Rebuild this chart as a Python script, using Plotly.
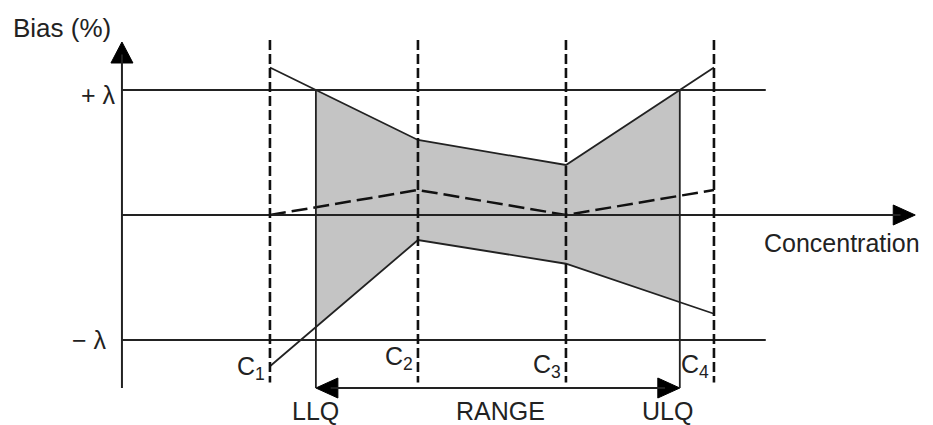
import numpy as np
import plotly.graph_objects as go

# ---- data ----
conc = [1, 2, 3, 4]
conc_labels = ["C<sub>1</sub>", "C<sub>2</sub>", "C<sub>3</sub>", "C<sub>4</sub>"]
upper = [11.8, 6.0, 4.0, 11.8]
lower = [-12.1, -2.0, -3.9, -7.9]
mean_bias = [0.0, 2.0, 0.0, 2.0]
lam = 10.0

# ---- derived: quantification limits where the upper limit crosses +lambda ----
def crossing(x0, x1, y0, y1, level):
    return x0 + (level - y0) / (y1 - y0) * (x1 - x0)

llq = crossing(conc[0], conc[1], upper[0], upper[1], lam)
ulq = crossing(conc[2], conc[3], upper[2], upper[3], lam)

xr = [-0.824, 5.48]
yr = [-16.8, 17.2]
W, H = 933, 425
pxx = W / (xr[1] - xr[0])
pxy = H / (yr[1] - yr[0])

ink = "#222222"
font = "Liberation Sans, Arial, sans-serif"

y_top, y_bot = 13.84, -13.84
x_end = 5.36
lam_end = 4.35
range_y = -13.84

fig = go.Figure()

# shaded validity region
xs_in = [c for c in conc if llq < c < ulq]
up_poly = [lam] + [np.interp(c, conc, upper) for c in xs_in] + [lam]
lo_poly = [np.interp(ulq, conc, lower)] + [np.interp(c, conc, lower) for c in reversed(xs_in)] + [np.interp(llq, conc, lower)]
px = [llq] + xs_in + [ulq] + [ulq] + list(reversed(xs_in)) + [llq]
py = up_poly + lo_poly
fig.add_trace(go.Scatter(x=px, y=py, fill="toself", fillcolor="#c4c4c4",
                         line=dict(width=0), mode="lines", hoverinfo="skip"))

def seg(x0, y0, x1, y1, w=1.8, dash="solid", color=ink):
    fig.add_shape(type="line", x0=x0, y0=y0, x1=x1, y1=y1, xref="x", yref="y",
                  line=dict(color=color, width=w, dash=dash))

# axes
seg(0, y_bot, 0, y_top - 1.0, w=2)
seg(0, 0, x_end - 0.1, 0, w=2)
# +/- lambda
seg(0, lam, lam_end, lam)
seg(0, -lam, lam_end, -lam)
# concentration dashed verticals
for c in conc:
    seg(c, 14.0, c, -13.4, w=2.6, dash="10px,4px", color="#111")
# LLQ / ULQ verticals
seg(llq, lam, llq, range_y)
seg(ulq, lam, ulq, range_y)
seg(llq + 0.1, range_y, ulq - 0.1, range_y, w=2)

# upper / lower / mean lines
fig.add_trace(go.Scatter(x=conc, y=upper, mode="lines", line=dict(color=ink, width=1.8), hoverinfo="skip"))
fig.add_trace(go.Scatter(x=conc, y=lower, mode="lines", line=dict(color=ink, width=1.8), hoverinfo="skip"))
fig.add_trace(go.Scatter(x=conc, y=mean_bias, mode="lines",
                         line=dict(color="#111", width=2.5, dash="16px,6px"), hoverinfo="skip"))

# arrowheads as filled triangles
def tri(tip_x, tip_y, direction, length=21, half=11):
    dx, dy = length / pxx, length / pxy
    hx, hy = half / pxx, half / pxy
    if direction == "up":
        xs = [tip_x, tip_x - hx, tip_x + hx, tip_x]
        ys = [tip_y, tip_y - dy, tip_y - dy, tip_y]
    elif direction == "right":
        xs = [tip_x, tip_x - dx, tip_x - dx, tip_x]
        ys = [tip_y, tip_y + hy, tip_y - hy, tip_y]
    else:
        xs = [tip_x, tip_x + dx, tip_x + dx, tip_x]
        ys = [tip_y, tip_y + hy, tip_y - hy, tip_y]
    fig.add_trace(go.Scatter(x=xs, y=ys, fill="toself", fillcolor="#000",
                             line=dict(color="#000", width=1), mode="lines", hoverinfo="skip"))

tri(0, y_top, "up")
tri(x_end, 0, "right", length=22, half=10)
tri(llq, range_y, "left", length=22, half=10)
tri(ulq, range_y, "right", length=22, half=10)

def txt(x, y, s, xanchor="center", size=25):
    fig.add_annotation(x=x, y=y, xref="x", yref="y", text=s, showarrow=False,
                       xanchor=xanchor, yanchor="middle",
                       font=dict(family=font, size=size, color="#222"))

txt(-0.405, 15.0, "Bias (%)", size=26)
txt(-0.03, 9.6, "+ λ", xanchor="right")
txt(-0.09, -10.0, "− λ", xanchor="right")
offs = [-12.2, -11.4, -12.1, -12.1]
for c, lab, o in zip(conc, conc_labels, offs):
    txt(c - 0.02, o, lab, xanchor="right")
txt(llq, -15.7, "LLQ")
txt((llq + ulq) / 2 + 0.02, -15.7, "RANGE")
txt(ulq - 0.08, -15.7, "ULQ")
txt(5.405, -2.2, "Concentration", xanchor="right")

fig.update_layout(
    width=W, height=H, margin=dict(l=0, r=0, t=0, b=0),
    paper_bgcolor="white", plot_bgcolor="white", showlegend=False,
    xaxis=dict(range=xr, visible=False, fixedrange=True),
    yaxis=dict(range=yr, visible=False, fixedrange=True),
)
fig.write_html("out.html")
